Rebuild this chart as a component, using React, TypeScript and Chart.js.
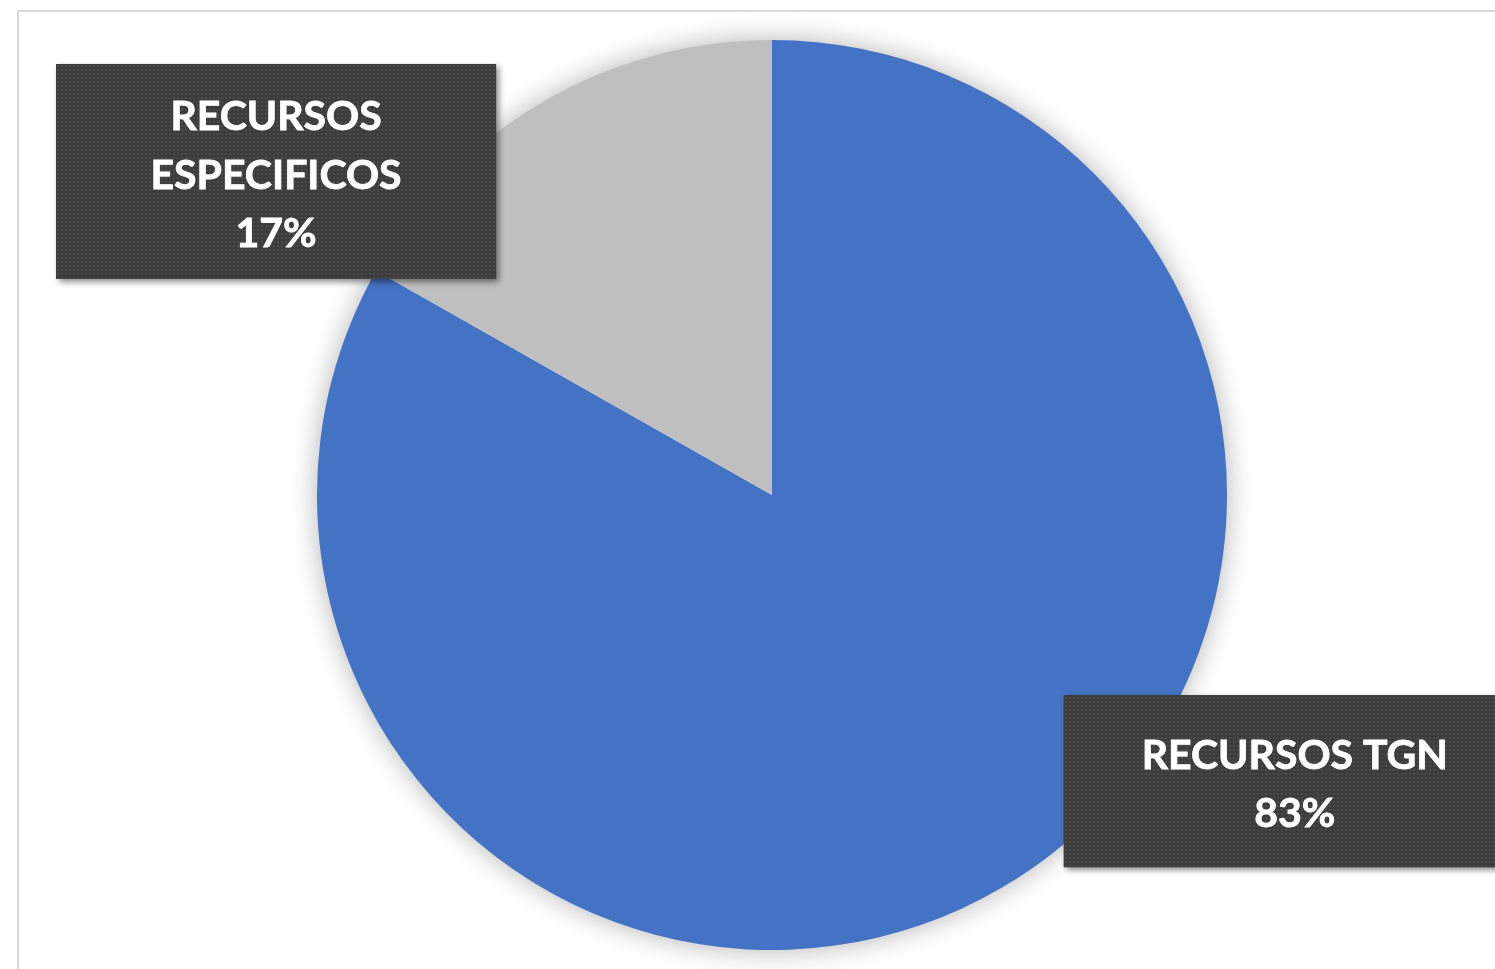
import React, { useEffect, useRef } from "react";
import { Chart, registerables } from "chart.js";

Chart.register(...registerables);

const categories = ["RECURSOS TGN", "RECURSOS ESPECIFICOS"];
const values = [83.2, 16.8];
const colors = ["#4472C4", "#BFBFBF"];
const labelLines = [["RECURSOS TGN", "83%"], ["RECURSOS", "ESPECIFICOS", "17%"]];

const W = 1495;
const H = 969;

function makePattern(ctx: CanvasRenderingContext2D) {
  const c = document.createElement("canvas");
  c.width = 4;
  c.height = 4;
  const p = c.getContext("2d")!;
  p.fillStyle = "#3c3c3c";
  p.fillRect(0, 0, 4, 4);
  p.fillStyle = "#4b4b4b";
  p.fillRect(1, 1, 2, 2);
  return ctx.createPattern(c, "repeat")!;
}

const framePlugin = {
  id: "frame",
  beforeDraw(chart: any) {
    const ctx = chart.ctx;
    ctx.save();
    ctx.fillStyle = "#ffffff";
    ctx.fillRect(0, 0, chart.width, chart.height);
    ctx.strokeStyle = "#d9d9d9";
    ctx.lineWidth = 2;
    ctx.strokeRect(18, 11, chart.width + 20, chart.height + 20);
    ctx.restore();
  },
};

const shadowPlugin = {
  id: "pieShadow",
  beforeDatasetsDraw(chart: any) {
    const arc = chart.getDatasetMeta(0).data[0];
    if (!arc) return;
    const ctx = chart.ctx;
    ctx.save();
    ctx.shadowColor = "rgba(0,0,0,0.32)";
    ctx.shadowBlur = 28;
    ctx.fillStyle = "#ffffff";
    ctx.beginPath();
    ctx.arc(arc.x, arc.y, arc.outerRadius - 1, 0, Math.PI * 2);
    ctx.fill();
    ctx.restore();
  },
};

// label box offsets relative to pie centre, in units of the radius
const boxSpecs = [
  { cx: 1.149, cy: 0.629, w: 462, h: 172, lh: 58 },
  { cx: -1.09, cy: -0.711, w: 440, h: 215, lh: 58.5 },
];

const labelPlugin = {
  id: "boxLabels",
  afterDatasetsDraw(chart: any) {
    const meta = chart.getDatasetMeta(0);
    const arc = meta.data[0];
    if (!arc) return;
    const ctx = chart.ctx;
    const pattern = makePattern(ctx);
    const r = arc.outerRadius;
    meta.data.forEach((_: any, i: number) => {
      const s = boxSpecs[i];
      const bx = arc.x + s.cx * r;
      const by = arc.y + s.cy * r;
      const x0 = bx - s.w / 2;
      const y0 = by - s.h / 2;
      ctx.save();
      ctx.shadowColor = "rgba(0,0,0,0.45)";
      ctx.shadowBlur = 6;
      ctx.shadowOffsetX = 3;
      ctx.shadowOffsetY = 3;
      ctx.fillStyle = "#3c3c3c";
      ctx.fillRect(x0, y0, s.w, s.h);
      ctx.restore();
      ctx.save();
      ctx.fillStyle = pattern;
      ctx.fillRect(x0, y0, s.w, s.h);
      ctx.fillStyle = "#ffffff";
      ctx.font = "bold 41px Lato, 'Open Sans', sans-serif";
      ctx.textAlign = "center";
      ctx.textBaseline = "middle";
      const lines = labelLines[i];
      const pct = Math.round(values[i]) + "%";
      const n = lines.length;
      lines.forEach((t, k) => {
        const txt = k === n - 1 ? pct : t;
        const ty = by + 4 + (k - (n - 1) / 2) * s.lh;
        ctx.fillText(txt, bx, ty);
        ctx.lineWidth = 0.8;
        ctx.strokeStyle = "#ffffff";
        ctx.strokeText(txt, bx, ty);
      });
      ctx.restore();
    });
  },
};

export default function App() {
  const ref = useRef<HTMLCanvasElement>(null);
  useEffect(() => {
    const chart = new Chart(ref.current!, {
      type: "pie",
      data: {
        labels: categories,
        datasets: [
          {
            data: values,
            backgroundColor: colors,
            borderWidth: 0,
          },
        ],
      },
      options: {
        responsive: false,
        animation: false,
        devicePixelRatio: 1,
        layout: { padding: { left: 317, right: 268, top: 40, bottom: 19 } },
        plugins: {
          legend: { display: false },
          tooltip: { enabled: false },
        },
      },
      plugins: [framePlugin, shadowPlugin, labelPlugin],
    });
    return () => chart.destroy();
  }, []);
  return (
    <div style={{ position: "absolute", left: 0, top: 0, width: W, height: H }}>
      <canvas ref={ref} width={W} height={H} style={{ width: W, height: H, display: "block" }} />
    </div>
  );
}
